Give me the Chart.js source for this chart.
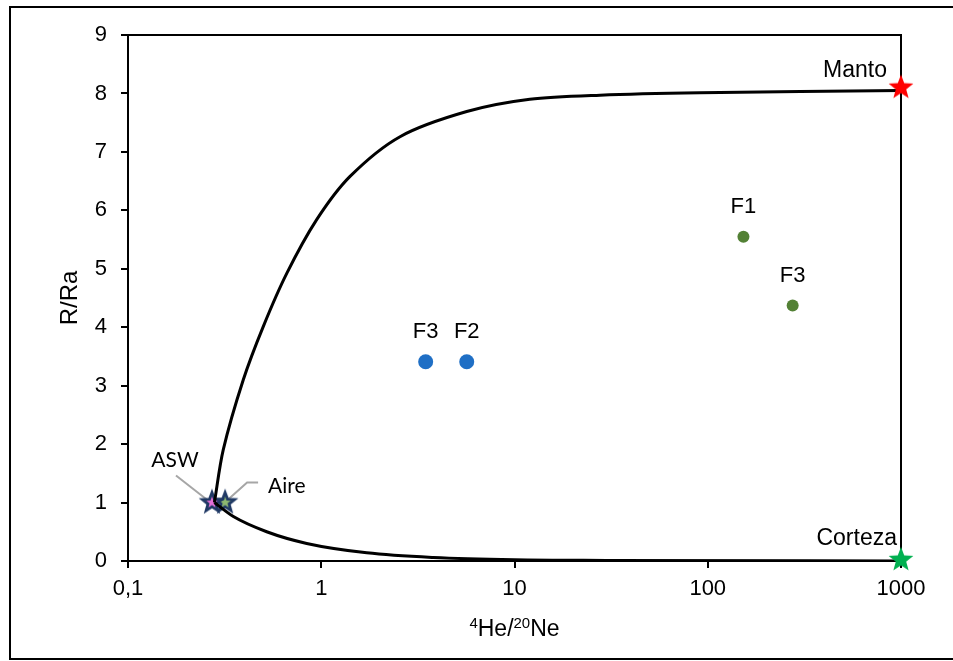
<!DOCTYPE html>
<html><head><meta charset="utf-8">
<script src="https://cdn.jsdelivr.net/npm/chart.js@4.4.1/dist/chart.umd.min.js"></script>
<style>html,body{margin:0;padding:0;background:#fff}canvas{display:block}</style>
</head><body>
<canvas id="c" width="953" height="661"></canvas>
<script>
// ---- data ----
const xTickValues = [0.1, 1, 10, 100, 1000];
const xTickLabels = ['0,1', '1', '10', '100', '1000'];
const yTickLabels = ['0', '1', '2', '3', '4', '5', '6', '7', '8', '9'];
const xTitleParts = [['4', true], ['He/', false], ['20', true], ['Ne', false]];
const yTitle = 'R/Ra';

const mantleCurveX = [0.28, 0.311, 0.395, 0.501, 0.663, 0.947, 1.409, 2.556, 5.66, 12.0, 27.7, 91, 1000];
const mantleCurveY = [1.0, 1.90, 3.10, 4.01, 4.92, 5.84, 6.58, 7.26, 7.69, 7.90, 7.97, 8.01, 8.05];

const crustCurveX = [0.28, 0.351, 0.522, 0.841, 1.72, 3.80, 10, 30, 1000];
const crustCurveY = [1.0, 0.76, 0.50, 0.30, 0.14, 0.06, 0.02, 0.01, 0.0];

const blueNames = ['F3', 'F2'];
const blueX = [3.47, 5.66];
const blueY = [3.41, 3.41];

const greenNames = ['F1', 'F3'];
const greenX = [153, 275];
const greenY = [5.55, 4.37];

const mantoName = ['Manto'];
const mantoX = [1000];
const mantoY = [8.1];

const cortezaName = ['Corteza'];
const cortezaX = [1000];
const cortezaY = [0.02];

const aswName = ['ASW'];
const aswX = [0.272];
const aswY = [1.0];

const aireName = ['Aire'];
const aireX = [0.318];
const aireY = [1.0];

// ---- helpers ----
const pts = (xs, ys) => xs.map((x, i) => ({x: x, y: ys[i]}));

function makeStar(r, fill, stroke, lw) {
  const pad = Math.ceil(lw || 0) + 2;
  const size = Math.ceil(2 * r + 2 * pad);
  const c = document.createElement('canvas');
  c.width = size; c.height = size;
  const g = c.getContext('2d');
  const cx = size / 2, cy = size / 2;
  g.beginPath();
  for (let i = 0; i < 10; i++) {
    const a = -Math.PI / 2 + i * Math.PI / 5;
    const rad = i % 2 === 0 ? r : r * 0.42;
    g.lineTo(cx + rad * Math.cos(a), cy + rad * Math.sin(a));
  }
  g.closePath();
  g.fillStyle = fill; g.fill();
  if (stroke) { g.lineWidth = lw; g.strokeStyle = stroke; g.lineJoin = 'miter'; g.stroke(); }
  return c;
}

const starRed = makeStar(13, '#FF0000');
const starGreen = makeStar(13, '#00B050');
const starPink = makeStar(10, '#E36FD8', '#1F3864', 2.8);
const starLight = makeStar(10, '#8DB870', '#1F3864', 2.8);

const sansFont = "'Liberation Sans', Arial, sans-serif";
const calFont = "Lato, 'Open Sans', sans-serif";

// label layouts (style/position, not data)
const labelLayout = {
  blue: {font: '22px ' + sansFont, items: [{dx: 0, dy: -23.5, align: 'center'}, {dx: 0, dy: -23.5, align: 'center'}]},
  green: {font: '22px ' + sansFont, items: [{dx: 0, dy: -23.5, align: 'center'}, {dx: 0, dy: -24, align: 'center'}]},
  manto: {font: '23px ' + sansFont, items: [{dx: -14, dy: -10.5, align: 'right'}]},
  corteza: {font: '23px ' + sansFont, items: [{dx: -4, dy: -15, align: 'right'}]},
  asw: {font: '21px ' + calFont, items: [{dx: -37, dy: -35.5, align: 'center', leader: [[-36, -27], [-4, -2]]}]},
  aire: {font: '21px ' + calFont, items: [{dx: 43, dy: -10, align: 'left', leader: [[33, -20], [22, -20], [3, -3]]}]}
};

const labelPlugin = {
  id: 'pointLabels',
  beforeDatasetsDraw(chart) {
    const ctx = chart.ctx;
    const a = chart.chartArea;
    ctx.save();
    ctx.strokeStyle = '#000';
    ctx.lineWidth = 2;
    ctx.beginPath();
    ctx.moveTo(a.left, a.top); ctx.lineTo(a.right, a.top); ctx.lineTo(a.right, a.bottom);
    ctx.stroke();
    ctx.restore();
    chart.data.datasets.forEach((ds, i) => {
      if (!ds.layoutKey) return;
      const lay = labelLayout[ds.layoutKey];
      const meta = chart.getDatasetMeta(i);
      lay.items.forEach((it, j) => {
        if (!it.leader) return;
        const el = meta.data[j];
        ctx.save();
        ctx.strokeStyle = '#A6A6A6';
        ctx.lineWidth = 2;
        ctx.beginPath();
        it.leader.forEach((p, k) => {
          if (k === 0) ctx.moveTo(el.x + p[0], el.y + p[1]);
          else ctx.lineTo(el.x + p[0], el.y + p[1]);
        });
        ctx.stroke();
        ctx.restore();
      });
    });
  },
  afterDatasetsDraw(chart) {
    const ctx = chart.ctx;
    chart.data.datasets.forEach((ds, i) => {
      if (!ds.names) return;
      const lay = labelLayout[ds.layoutKey];
      const meta = chart.getDatasetMeta(i);
      ds.names.forEach((name, j) => {
        const el = meta.data[j];
        const it = lay.items[j];
        ctx.save();
        ctx.font = lay.font;
        ctx.fillStyle = '#000';
        ctx.textAlign = it.align;
        ctx.textBaseline = 'alphabetic';
        ctx.fillText(name, el.x + it.dx, el.y + it.dy);
        ctx.restore();
      });
    });
  },
  afterDraw(chart) {
    const ctx = chart.ctx;
    const a = chart.chartArea;
    ctx.save();
    // x-axis title with superscripts
    const big = '23px ' + sansFont, small = '15px ' + sansFont;
    let total = 0;
    xTitleParts.forEach(([t, sup]) => { ctx.font = sup ? small : big; total += ctx.measureText(t).width; });
    let x = (a.left + a.right) / 2 - total / 2;
    const base = 636;
    ctx.fillStyle = '#000';
    ctx.textBaseline = 'alphabetic';
    ctx.textAlign = 'left';
    xTitleParts.forEach(([t, sup]) => {
      ctx.font = sup ? small : big;
      ctx.fillText(t, x, sup ? base - 8 : base);
      x += ctx.measureText(t).width;
    });
    // outer frame
    ctx.strokeStyle = '#000';
    ctx.lineWidth = 2;
    ctx.strokeRect(10, 7, 960, 652);
    ctx.restore();
  }
};

Chart.defaults.font.family = sansFont;
Chart.defaults.color = '#000';

new Chart(document.getElementById('c'), {
  type: 'scatter',
  data: {
    datasets: [
      {label: 'Manto', names: mantoName, layoutKey: 'manto', data: pts(mantoX, mantoY), pointStyle: starRed, pointRadius: 13, order: 0, clip: false},
      {label: 'Corteza', names: cortezaName, layoutKey: 'corteza', data: pts(cortezaX, cortezaY), pointStyle: starGreen, pointRadius: 13, order: 0, clip: false},
      {label: 'mantle mixing', type: 'line', data: pts(mantleCurveX, mantleCurveY), borderColor: '#000', borderWidth: 3, pointRadius: 0, tension: 0.3, fill: false, order: 1},
      {label: 'crust mixing', type: 'line', data: pts(crustCurveX, crustCurveY), borderColor: '#000', borderWidth: 3, pointRadius: 0, cubicInterpolationMode: 'monotone', fill: false, order: 1},
      {label: 'ASW', names: aswName, layoutKey: 'asw', data: pts(aswX, aswY), pointStyle: starPink, pointRadius: 10, order: 2, clip: false},
      {label: 'Aire', names: aireName, layoutKey: 'aire', data: pts(aireX, aireY), pointStyle: starLight, pointRadius: 10, order: 3, clip: false},
      {label: 'blue', names: blueNames, layoutKey: 'blue', data: pts(blueX, blueY), pointRadius: 7.5, backgroundColor: '#1F6FC5', borderColor: '#1F6FC5', borderWidth: 0, order: 4},
      {label: 'green', names: greenNames, layoutKey: 'green', data: pts(greenX, greenY), pointRadius: 6, backgroundColor: '#538135', borderColor: '#538135', borderWidth: 0, order: 4}
    ]
  },
  options: {
    responsive: false,
    animation: false,
    devicePixelRatio: 1,
    layout: {padding: {top: 35, right: 52, left: 0, bottom: 0}},
    plugins: {legend: {display: false}, tooltip: {enabled: false}},
    scales: {
      x: {
        type: 'logarithmic',
        min: 0.1, max: 1000,
        afterFit: (s) => { s.height = 100; },
        afterBuildTicks: (s) => { s.ticks = xTickValues.map(v => ({value: v})); },
        ticks: {
          callback: (v, i) => xTickLabels[i],
          font: {size: 22},
          color: '#000',
          padding: 8,
          maxRotation: 0,
          autoSkip: false
        },
        grid: {drawOnChartArea: false, drawTicks: true, tickLength: 7, color: '#000', lineWidth: 2},
        border: {display: true, color: '#000', width: 2},
        title: {display: false}
      },
      y: {
        type: 'linear',
        min: 0, max: 9,
        afterFit: (s) => { s.width = 128; },
        ticks: {
          stepSize: 1,
          callback: (v, i) => yTickLabels[i],
          font: {size: 22},
          color: '#000',
          padding: 14
        },
        grid: {drawOnChartArea: false, drawTicks: true, tickLength: 7, color: '#000', lineWidth: 2},
        border: {display: true, color: '#000', width: 2},
        title: {display: true, text: yTitle, font: {size: 24}, color: '#000', padding: {top: 56, bottom: 0}}
      }
    }
  },
  plugins: [labelPlugin]
});
</script>
</body></html>
